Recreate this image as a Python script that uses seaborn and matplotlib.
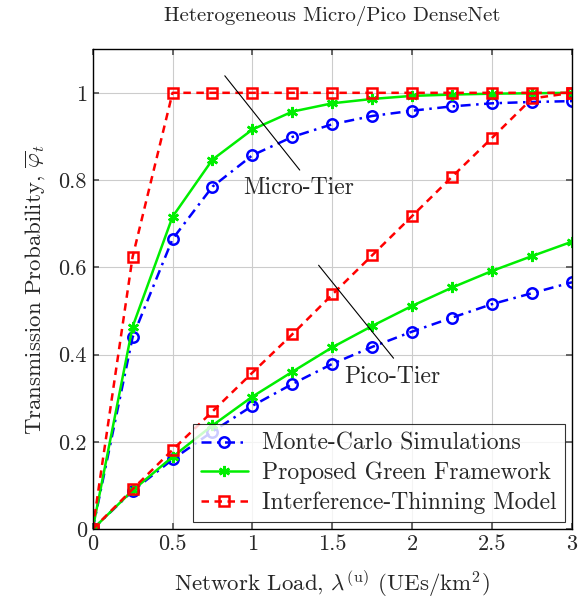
import pandas as pd
import seaborn as sns
import matplotlib.pyplot as plt

# Transmission probability vs network load, micro and pico tiers

load = [0, 0.25, 0.5, 0.75, 1, 1.25, 1.5, 1.75, 2, 2.25, 2.5, 2.75, 3]

micro_mc = [0, 0.44, 0.665, 0.785, 0.857, 0.899, 0.928, 0.947, 0.959, 0.969, 0.976, 0.979, 0.981]
micro_green = [0, 0.464, 0.716, 0.847, 0.916, 0.957, 0.976, 0.986, 0.993, 0.996, 0.998, 0.999, 1.0]
micro_thin = [0, 0.624, 1, 1, 1, 1, 1, 1, 1, 1, 1, 1, 1]

pico_mc = [0, 0.088, 0.160, 0.224, 0.283, 0.333, 0.379, 0.418, 0.453, 0.485, 0.516, 0.541, 0.566]
pico_green = [0, 0.089, 0.166, 0.238, 0.304, 0.361, 0.417, 0.466, 0.512, 0.554, 0.592, 0.626, 0.659]
pico_thin = [0, 0.092, 0.182, 0.270, 0.359, 0.447, 0.538, 0.628, 0.718, 0.808, 0.897, 0.987, 1.0]

labels = ["Monte-Carlo Simulations", "Proposed Green Framework", "Interference-Thinning Model"]

sns.set_theme(style="ticks")
plt.rcParams.update({
    "font.family": "serif",
    "font.serif": ["cmr10", "DejaVu Serif"],
    "mathtext.fontset": "cm",
    "axes.unicode_minus": False,
    "axes.formatter.use_mathtext": True,
    "font.size": 16,
    "axes.labelsize": 16.5,
    "xtick.labelsize": 16,
    "ytick.labelsize": 16,
    "legend.fontsize": 17,
})

fig = plt.figure(figsize=(5.79, 6.07), dpi=100)
ax = fig.add_axes([0.160, 0.128, 0.828, 0.791])

styles = [
    dict(color="blue", marker="o", linestyle=(0, (4, 2.2, 1, 2.2)), markerfacecolor="none",
         markeredgecolor="blue", markersize=7.5, markeredgewidth=1.8),
    dict(color="#00ee00", marker=(6, 2, 0), linestyle="-", markeredgecolor="#00ee00",
         markersize=8, markeredgewidth=1.8),
    dict(color="red", marker="s", linestyle=(0, (3, 2.2)), markerfacecolor="none",
         markeredgecolor="red", markersize=7.5, markeredgewidth=1.8),
]

for ys, st, lab in zip([micro_mc, micro_green, micro_thin], styles, labels):
    sns.lineplot(x=load, y=ys, ax=ax, lw=1.8, label=lab, **st)
for ys, st in zip([pico_mc, pico_green, pico_thin], styles):
    sns.lineplot(x=load, y=ys, ax=ax, lw=1.8, **st)

ax.set_xlim(0, 3)
ax.set_ylim(0, 1.1)
ax.set_xticks([0, 0.5, 1, 1.5, 2, 2.5, 3])
ax.set_xticklabels(["0", "0.5", "1", "1.5", "2", "2.5", "3"])
ax.set_yticks([0, 0.2, 0.4, 0.6, 0.8, 1])
ax.set_yticklabels(["0", "0.2", "0.4", "0.6", "0.8", "1"])
ax.grid(True, color="#cccccc", lw=0.8)
ax.tick_params(direction="in", top=True, right=True, length=4, color="#555555", pad=4)
for sp in ax.spines.values():
    sp.set_color("black")
    sp.set_linewidth(1.0)

# tier annotations
ax.plot([0.827, 1.296], [1.039, 0.823], color="black", lw=0.8)
ax.text(0.94, 0.782, "Micro-Tier", ha="left", va="center", fontsize=17)
ax.plot([1.414, 1.883], [0.605, 0.392], color="black", lw=0.8)
ax.text(1.577, 0.35, "Pico-Tier", ha="left", va="center", fontsize=17)

ax.set_xlabel(r"Network Load, $\lambda^{(\mathrm{u})}$ (UEs/km$^2$)", labelpad=10)
ax.set_ylabel(r"Transmission Probability, $\overline{\varphi}_t$", labelpad=8)
ax.set_title("Heterogeneous Micro/Pico DenseNet", fontsize=15, pad=20)

leg = ax.legend(loc="lower right", frameon=True, fancybox=False, borderpad=0.35,
                handlelength=2.0, labelspacing=0.3, borderaxespad=0.3, handletextpad=0.6)
leg.get_frame().set_edgecolor("black")
leg.get_frame().set_linewidth(0.8)

fig.savefig("out.png", dpi=100)
